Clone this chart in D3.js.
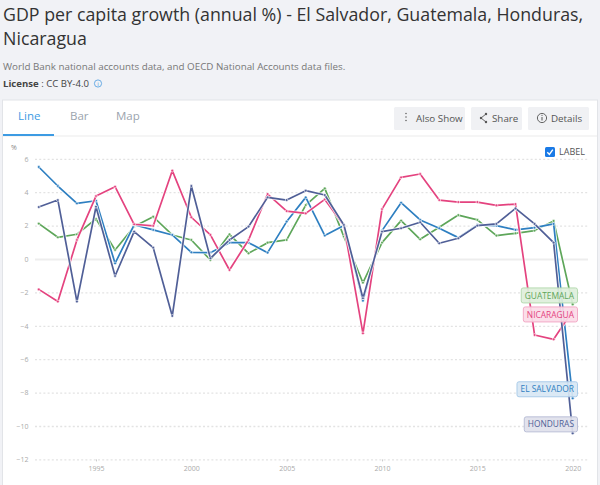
<!DOCTYPE html>
<html>
<head>
<meta charset="utf-8">
<script src="https://cdn.jsdelivr.net/npm/d3@7"></script>
<style>
  body { margin: 0; background: #f1f2f6; font-family: "Open Sans", sans-serif; }
  svg { display: block; }
</style>
</head>
<body>
<svg id="chart" width="600" height="485"></svg>
<script>
// values
const years = [1992, 1993, 1994, 1995, 1996, 1997, 1998, 1999, 2000, 2001, 2002, 2003, 2004, 2005,
  2006, 2007, 2008, 2009, 2010, 2011, 2012, 2013, 2014, 2015, 2016, 2017, 2018, 2019, 2020];
const elSalvador = [5.51, 4.37, 3.33, 3.49, -0.26, 2.05, 1.74, 1.44, 0.40, 0.38, 0.98, 0.98, 0.38, 2.24,
  3.69, 1.40, 2.00, -2.50, 1.70, 3.37, 2.34, 1.84, 1.28, 2.04, 2.00, 1.74, 1.88, 2.10, -8.34];
const guatemala = [2.12, 1.30, 1.48, 2.40, 0.54, 1.94, 2.53, 1.44, 1.14, -0.06, 1.48, 0.34, 0.98, 1.14,
  3.23, 4.23, 1.34, -1.42, 0.98, 2.30, 1.18, 1.90, 2.63, 2.34, 1.40, 1.54, 1.70, 2.28, -2.72];
const honduras = [3.11, 3.53, -2.55, 3.13, -1.02, 1.64, 0.68, -3.41, 4.37, 0.04, 1.14, 1.94, 3.69, 3.53,
  4.09, 3.83, 2.04, -2.35, 1.64, 1.84, 2.20, 0.94, 1.24, 2.00, 2.10, 3.03, 2.10, 0.98, -10.44];
const nicaragua = [-1.82, -2.55, 1.14, 3.77, 4.33, 2.08, 1.98, 5.29, 2.50, 1.44, -0.66, 1.14, 3.89, 2.87,
  2.73, 3.57, 2.00, -4.45, 2.99, 4.89, 5.09, 3.53, 3.41, 3.41, 3.21, 3.29, -4.55, -4.81, -3.10];

const yTicks = [6, 4, 2, 0, -2, -4, -6, -8, -10, -12];
const xTicks = [1995, 2000, 2005, 2010, 2015, 2020];
const tabNames = ['Line', 'Bar', 'Map'];

const series = [
  { name: 'GUATEMALA', values: guatemala, color: '#5ea65a', fill: '#deefdb', edge: '#b7dbb2' },
  { name: 'EL SALVADOR', values: elSalvador, color: '#2e7fc1', fill: '#d8e7f4', edge: '#abcce9' },
  { name: 'NICARAGUA', values: nicaragua, color: '#e4437f', fill: '#fbdbe7', edge: '#f3abc7' },
  { name: 'HONDURAS', values: honduras, color: '#505f97', fill: '#dfe1ec', edge: '#babfd7' }
];

const svg = d3.select('#chart');

// ---- header
svg.append('text').attr('x', 3).attr('y', 21)
  .attr('font-size', '17.8px').attr('fill', '#333')
  .text('GDP per capita growth (annual %) - El Salvador, Guatemala, Honduras,');
svg.append('text').attr('x', 3).attr('y', 45)
  .attr('font-size', '17.8px').attr('fill', '#333')
  .text('Nicaragua');
svg.append('text').attr('x', 3).attr('y', 70)
  .attr('font-size', '9.8px').attr('fill', '#777')
  .text('World Bank national accounts data, and OECD National Accounts data files.');
let lic = svg.append('text').attr('x', 3).attr('y', 87)
  .attr('font-size', '9.6px').attr('fill', '#444');
lic.append('tspan').attr('font-weight', 'bold').text('License');
lic.append('tspan').text(' : CC BY-4.0');
svg.append('circle').attr('cx', 98).attr('cy', 83.5).attr('r', 3.6)
  .attr('fill', 'none').attr('stroke', '#4a9be0').attr('stroke-width', 0.8);
svg.append('text').attr('x', 98).attr('y', 85.6).attr('text-anchor', 'middle')
  .attr('font-size', '6px').attr('fill', '#4a9be0').text('i');

// ---- card + tabs
svg.append('rect').attr('x', 2.5).attr('y', 100).attr('width', 595).attr('height', 392)
  .attr('fill', '#fff').attr('stroke', '#e2e4e8');
svg.append('line').attr('x1', 3).attr('x2', 597).attr('y1', 136).attr('y2', 136)
  .attr('stroke', '#ebebeb');
svg.append('line').attr('x1', 3).attr('x2', 54).attr('y1', 135).attr('y2', 135)
  .attr('stroke', '#3d9be3').attr('stroke-width', 2);
svg.selectAll('.tab').data(tabNames).enter().append('text')
  .attr('class', 'tab')
  .attr('x', (d, i) => [18, 70, 116][i]).attr('y', 120)
  .attr('font-size', '11.5px')
  .attr('fill', (d, i) => i == 0 ? '#3d9be3' : '#9ba4ae')
  .text(d => d);

// buttons
const buttons = [
  { label: 'Also Show', x: 394, w: 71, tx: 416 },
  { label: 'Share', x: 471, w: 51, tx: 492 },
  { label: 'Details', x: 528, w: 61, tx: 551 }
];
let btn = svg.selectAll('.btn').data(buttons).enter().append('g').attr('class', 'btn');
btn.append('rect').attr('x', d => d.x).attr('y', 107).attr('width', d => d.w).attr('height', 23)
  .attr('fill', '#f0f1f4').attr('rx', 1.5);
btn.append('text').attr('x', d => d.tx).attr('y', 121.5)
  .attr('font-size', '9.8px').attr('fill', '#555').text(d => d.label);
// icons
[113.5, 117, 120.5].forEach(cy => {
  svg.append('circle').attr('cx', 406).attr('cy', cy).attr('r', 0.8).attr('fill', '#666');
});
svg.append('path').attr('d', 'M486,114 L481,118 L486,122')
  .attr('fill', 'none').attr('stroke', '#555').attr('stroke-width', 0.9);
[[486, 114], [481, 118], [486, 122]].forEach(p => {
  svg.append('circle').attr('cx', p[0]).attr('cy', p[1]).attr('r', 1.2).attr('fill', '#555');
});
svg.append('circle').attr('cx', 542).attr('cy', 118).attr('r', 4.6)
  .attr('fill', 'none').attr('stroke', '#555').attr('stroke-width', 0.9);
svg.append('line').attr('x1', 542).attr('x2', 542).attr('y1', 117).attr('y2', 120.5)
  .attr('stroke', '#555').attr('stroke-width', 1);
svg.append('circle').attr('cx', 542).attr('cy', 115.3).attr('r', 0.6).attr('fill', '#555');

// ---- plot
const x = d3.scaleLinear().domain([1995, 2020]).range([96, 572.7]);
const y = d3.scaleLinear().domain([-12, 6]).range([459.4, 158.8]);

svg.append('text').attr('x', 11).attr('y', 149.5)
  .attr('font-size', '7px').attr('fill', '#888').text('%');

// grid
let grid = svg.append('g').attr('transform', 'translate(35,0)')
  .call(d3.axisLeft(y).tickValues(yTicks).tickSize(-553).tickFormat(''));
grid.select('.domain').remove();
grid.selectAll('.tick line')
  .attr('stroke', d => d == 0 ? '#ededed' : '#e3e3e3')
  .attr('stroke-width', d => d == 0 ? 2 : 1.3)
  .attr('stroke-dasharray', d => d == 0 ? null : '2,2.2');

let yAxis = svg.append('g').attr('transform', 'translate(30,0)')
  .call(d3.axisLeft(y).tickValues(yTicks).tickSize(0).tickPadding(1.5));
yAxis.select('.domain').remove();
yAxis.selectAll('text').attr('font-size', '7px').attr('fill', '#aaa')
  .attr('font-family', '"Open Sans", sans-serif');

let xAxis = svg.append('g').attr('transform', 'translate(0,459.4)')
  .call(d3.axisBottom(x).tickValues(xTicks).tickFormat(d3.format('d')).tickSize(2).tickPadding(5));
xAxis.select('.domain').remove();
xAxis.selectAll('.tick line').attr('stroke', '#ccc');
xAxis.selectAll('text').attr('font-size', '7px').attr('fill', '#aaa')
  .attr('font-family', '"Open Sans", sans-serif');

// lines
const line = d3.line().x((d, i) => x(years[i])).y(d => y(d));
let lines = svg.append('g').selectAll('.series').data(series).enter()
  .append('g').attr('class', 'series');
lines.append('path').attr('d', d => line(d.values))
  .attr('fill', 'none').attr('stroke', '#fff').attr('stroke-width', 3.4)
  .attr('stroke-opacity', 0.8).attr('stroke-linejoin', 'round');
lines.append('path').attr('d', d => line(d.values))
  .attr('fill', 'none').attr('stroke', d => d.color).attr('stroke-width', 1.7)
  .attr('stroke-linejoin', 'round');
lines.selectAll('circle').data(d => d.values.map(v => ({ v: v, c: d.color }))).enter()
  .append('circle')
  .attr('cx', (d, i) => x(years[i])).attr('cy', d => y(d.v)).attr('r', 1.4)
  .attr('fill', d => d.c).attr('stroke', '#fff').attr('stroke-width', 0.6);

// end labels, pushed apart when they overlap
let lab = series.map(s => ({ s: s, cy: y(s.values[s.values.length - 1]) - 9 }))
  .sort((a, b) => a.cy - b.cy);
for (let i = 1; i < lab.length; i++) {
  if (lab[i].cy < lab[i - 1].cy + 19) lab[i].cy = lab[i - 1].cy + 19;
}
let labG = svg.append('g').selectAll('.lab').data(lab).enter().append('g').attr('class', 'lab');
labG.append('text')
  .attr('x', 574).attr('y', d => d.cy + 3.1).attr('text-anchor', 'end')
  .attr('font-size', '8.4px').attr('fill', d => d.s.color).text(d => d.s.name)
  .each(function(d) { d.w = this.getComputedTextLength(); });
labG.insert('rect', 'text')
  .attr('x', d => 574 - d.w - 3.5).attr('y', d => d.cy - 7.5)
  .attr('width', d => d.w + 7).attr('height', 15).attr('rx', 2)
  .attr('fill', d => d.s.fill).attr('fill-opacity', 0.92)
  .attr('stroke', d => d.s.edge);

// LABEL checkbox
svg.append('rect').attr('x', 545).attr('y', 147).attr('width', 10).attr('height', 10)
  .attr('rx', 1.5).attr('fill', '#1a7ae6');
svg.append('path').attr('d', 'M547.3,152.2 L549.4,154.4 L552.8,149.6')
  .attr('fill', 'none').attr('stroke', '#fff').attr('stroke-width', 1.4);
svg.append('text').attr('x', 559).attr('y', 155.3)
  .attr('font-size', '9px').attr('fill', '#555').text('LABEL');
</script>
</body>
</html>
